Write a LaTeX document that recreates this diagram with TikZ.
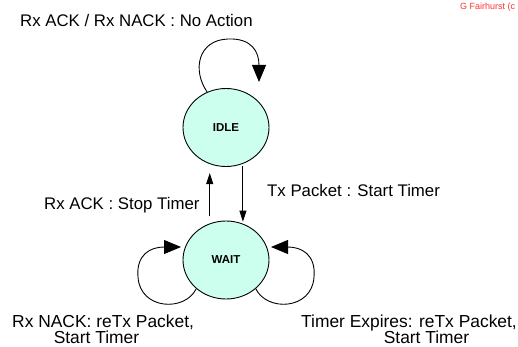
\documentclass[tikz,border=0pt]{standalone}
\usepackage{fontspec}
\setmainfont{Liberation Sans}
\usetikzlibrary{shapes.geometric,arrows.meta}
\definecolor{statefill}{RGB}{204,255,238}
\definecolor{noteRed}{RGB}{255,50,50}
\begin{document}
\begin{tikzpicture}[x=1pt,y=-1pt,
  state/.style={ellipse,draw,line width=0.9pt,fill=statefill,
    minimum width=86pt,minimum height=78pt,inner sep=0pt,
    font=\fontsize{11.5}{12}\selectfont\bfseries},
  lbl/.style={anchor=base west,inner sep=0pt,font=\fontsize{16.8}{17}\selectfont},
  blbl/.style={anchor=base west,inner sep=0pt,font=\fontsize{17.4}{17}\selectfont},
  link/.style={line width=0.9pt,-{Triangle[length=11pt,width=7pt]}},
  loop/.style={line width=0.9pt,-{Triangle[length=17pt,width=14pt]}}]
\useasboundingbox (0,0) rectangle (518,347);

% states
\node[state] (idle) at (226,127.5) {IDLE};
\node[state] (wait) at (226,260) {WAIT};

% free ends of the self-loops
\coordinate (idleTip) at (259,82);
\coordinate (waitLTip) at (181,247);
\coordinate (waitRTip) at (271,247);

% transitions between the states
\draw[link,shorten <=7pt,shorten >=9pt] (wait.114) -- (idle.246);
\draw[link,shorten <=2pt,shorten >=2pt] (idle.295) -- (wait.65);

% self-loops
\draw[loop] (idle.118) .. controls (192,70) and (198,40) .. (228,39)
  .. controls (252,38) and (259,52) .. (idleTip);
\draw[loop] (wait.224) .. controls (185,312) and (140,310) .. (138,277)
  .. controls (136,255) and (150,247) .. (waitLTip);
\draw[loop] (wait.316) .. controls (267,312) and (312,310) .. (314,277)
  .. controls (316,255) and (302,247) .. (waitRTip);

% transition labels
\node[lbl] (tIdle) at (20,27) {Rx ACK / Rx NACK : No Action};
\node[lbl] (tTx) at (267,196) {Tx Packet : Start Timer};
\node[lbl] (tAck) at (44,209) {Rx ACK : Stop Timer};
\node[blbl] (tNack1) at (12,327) {Rx NACK: reTx Packet,};
\node[blbl,anchor=base] (tNack2) at (96.5,343) {Start Timer};
\node[blbl] (tExp1) at (301,327) {Timer Expires: reTx Packet,};
\node[blbl,anchor=base] (tExp2) at (426.5,343) {Start Timer};

% author note
\node[anchor=base west,inner sep=0pt,text=noteRed,font=\fontsize{9}{10}\selectfont]
  (note) at (460,9.5) {G Fairhurst (c};
\end{tikzpicture}
\end{document}
